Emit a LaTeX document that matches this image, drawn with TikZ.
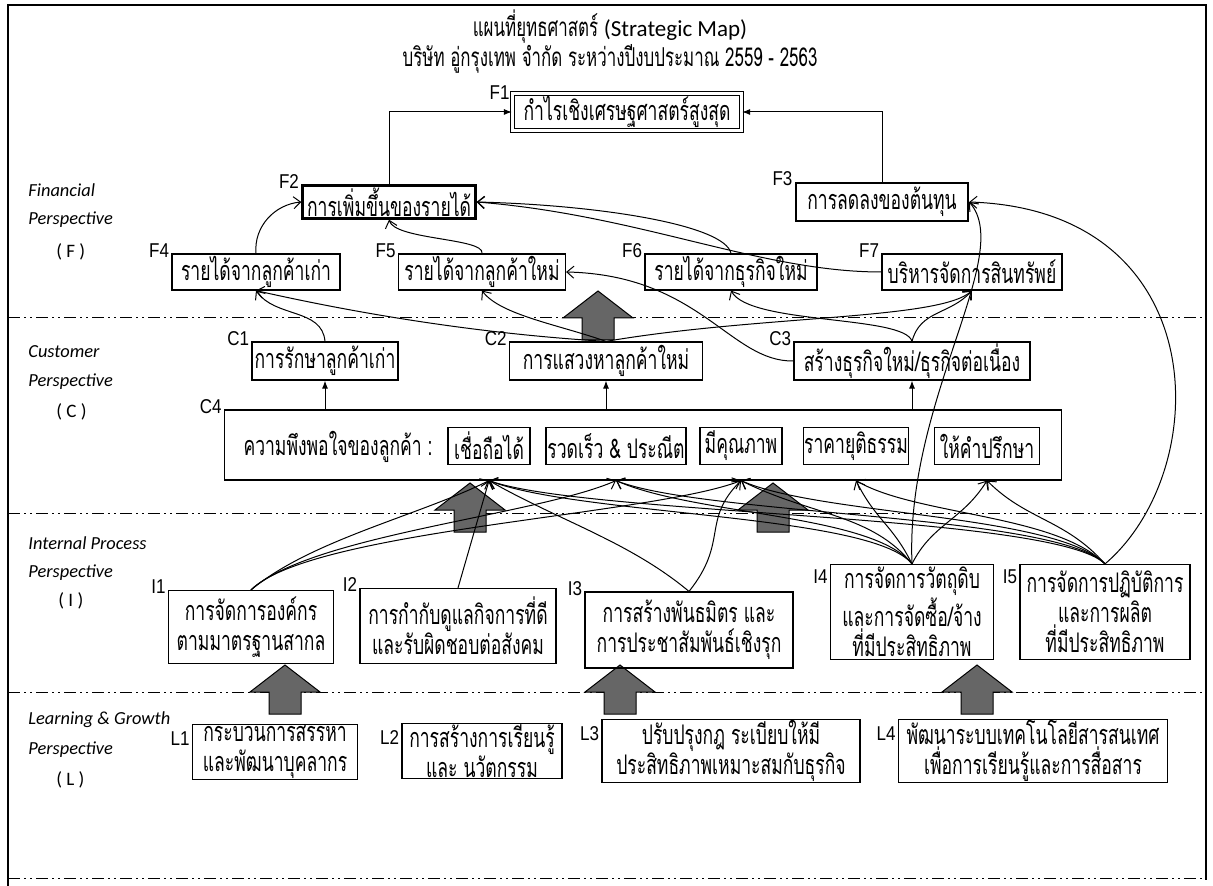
\documentclass[tikz,border=0pt]{standalone}
\usepackage{fontspec}
\setmainfont{Carlito}
\newfontfamily\thaifont[Script=Thai,FakeStretch=0.65]{Loma}
\newfontfamily\tagfont[FakeStretch=0.85]{Liberation Sans}
\usetikzlibrary{arrows.meta}

\tikzset{
  box/.style={draw, line width=0.6pt, align=center, inner sep=0.5pt,
    font=\thaifont\fontsize{13.5}{15}\selectfont},
  sized/.style 2 args={minimum width=#1*0.5pt, minimum height=#2*0.5pt},
  heavy/.style={line width=1.2pt},
  heading/.style={inner sep=0pt, text height=9pt, text depth=3pt, font=\thaifont\fontsize{13}{16}\selectfont},
  tag/.style={anchor=east, inner sep=1pt, yshift=1.5pt, font=\tagfont\fontsize{10}{11}\selectfont},
  side/.style={anchor=west, inner sep=0pt, font=\itshape\fontsize{9.2}{11}\selectfont},
  link/.style={line width=0.5pt, -{Straight Barb[length=3.5pt,width=6pt]}},
  up/.style={line width=0.5pt, -{Latex[length=4pt,width=3pt]}},
  sep/.style={line width=0.5pt, dash pattern=on 6pt off 2pt on 1pt off 2pt on 1pt off 2pt},
  bigup/.pic={\filldraw[fill=black!60, line width=0.5pt]
    (-35,0) -- (0,-27) -- (35,0) -- (16,0) -- (16,22) -- (-16,22) -- (-16,0) -- cycle;}
}

\begin{document}
\begin{tikzpicture}[x=0.5pt,y=-0.5pt]
    \useasboundingbox (0,0) rectangle (1213,886);

    % Frame and perspective separators
    \draw[line width=0.6pt] (8,886) -- (8,5) -- (1206,5) -- (1206,880);
    \draw[sep] (8,318) -- (1206,318);
    \draw[sep] (8,513) -- (1206,513);
    \draw[sep] (8,692) -- (1206,692);
    \draw[sep] (8,878) -- (1206,878);

    % Title
    \node[heading] (title) at (610,31) {แผนที่ยุทธศาสตร์ {\normalfont\fontsize{11.5}{14}\selectfont (Strategic Map)}};
    \node[heading] (subtitle) at (610,61) {บริษัท อู่กรุงเทพ จำกัด ระหว่างปีงบประมาณ 2559 - 2563};

    % Perspective names
    \node[side] (fin1) at (28,190) {Financial};
    \node[side] (fin2) at (28,220) {Perspective};
    \node[side, font=\fontsize{9.5}{11}\selectfont] (fin3) at (56,252) {( F )};
    \node[side] (cus1) at (28,352) {Customer};
    \node[side] (cus2) at (28,382) {Perspective};
    \node[side, font=\fontsize{9.5}{11}\selectfont] (cus3) at (56,412) {( C )};
    \node[side] (int1) at (28,543) {Internal Process};
    \node[side] (int2) at (28,573) {Perspective};
    \node[side, font=\fontsize{9.5}{11}\selectfont] (int3) at (58,601) {( I )};
    \node[side] (lrn1) at (28,720) {Learning \& Growth};
    \node[side] (lrn2) at (28,750) {Perspective};
    \node[side, font=\fontsize{9.5}{11}\selectfont] (lrn3) at (56,780) {( L )};

    % Big block arrows between the layers
    \pic at (598,318) {bigup};
    \pic at (470,510) {bigup};
    \pic at (773,510) {bigup};
    \pic at (285,692) {bigup};
    \pic at (620,692) {bigup};
    \pic at (977,692) {bigup};

    % Financial
    \node[box, sized={229}{37}, double, double distance=1.2pt, label={[tag,yshift=-1.5pt]north west:F1}] (f1) at (627,112) {กำไรเชิงเศรษฐศาสตร์สูงสุด};
    \node[box, heavy, sized={173}{33}, label={[tag]north west:F2}] (f2) at (389,202) {การเพิ่มขึ้นของรายได้};
    \node[box, heavy, sized={172}{38}, label={[tag]north west:F3}] (f3) at (882,202) {การลดลงของต้นทุน};
    \node[box, sized={168}{36}, label={[tag]north west:F4}] (f4) at (256,272) {รายได้จากลูกค้าเก่า};
    \node[box, sized={167}{36}, label={[tag]north west:F5}] (f5) at (482,272) {รายได้จากลูกค้าใหม่};
    \node[box, sized={172}{36}, label={[tag]north west:F6}] (f6) at (731,272) {รายได้จากธุรกิจใหม่};
    \node[box, sized={180}{36}, label={[tag]north west:F7}] (f7) at (972,272) {บริหารจัดการสินทรัพย์};

    % Customer
    \node[box, sized={146}{38}, label={[tag]north west:C1}] (c1) at (325,361) {การรักษาลูกค้าเก่า};
    \node[box, sized={193}{38}, label={[tag]north west:C2}] (c2) at (606,361) {การแสวงหาลูกค้าใหม่};
    \node[box, sized={236}{38}, label={[tag]north west:C3}] (c3) at (912,361) {สร้างธุรกิจใหม่/ธุรกิจต่อเนื่อง};
    \node[box, sized={837}{70}, label={[tag]north west:C4}] (c4) at (643,445) {};
    \node[box, draw=none] (sat) at (338,447) {ความพึงพอใจของลูกค้า :};
    \node[box, sized={82}{37}] (s1) at (489,446) {เชื่อถือได้};
    \node[box, sized={140}{37}] (s2) at (616,446) {รวดเร็ว \& ประณีต};
    \node[box, sized={82}{37}] (s3) at (741,446) {มีคุณภาพ};
    \node[box, sized={92}{37}] (s4) at (856,446) {ราคายุติธรรม};
    \node[box, sized={105}{37}] (s5) at (987,446) {ให้คำปรึกษา};
    \foreach \s in {1,...,5}
        \coordinate (t\s) at (s\s |- c4.south);

    % Internal process
    \node[box, sized={165}{73}, label={[tag]north west:I1}] (i1) at (251,627) {การจัดการองค์กร\\ตามมาตรฐานสากล};
    \node[box, sized={196}{75}, label={[tag]north west:I2}] (i2) at (458,626) {การกำกับดูแลกิจการที่ดี\\และรับผิดชอบต่อสังคม};
    \node[box, sized={208}{76}, label={[tag]north west:I3}] (i3) at (689,630) {การสร้างพันธมิตร และ\\การประชาสัมพันธ์เชิงรุก};
    \node[box, sized={163}{95}, label={[tag,yshift=-8pt]north west:I4}] (i4) at (912,612) {การจัดการวัตถุดิบ\\และการจัดซื้อ/จ้าง\\ที่มีประสิทธิภาพ};
    \node[box, sized={170}{95}, label={[tag,yshift=-8pt]north west:I5}] (i5) at (1105,612) {การจัดการปฏิบัติการ\\และการผลิต\\ที่มีประสิทธิภาพ};

    % Learning and growth
    \node[box, sized={165}{51}, label={[tag,yshift=-9pt]north west:L1}] (l1) at (275,752) {กระบวนการสรรหา\\และพัฒนาบุคลากร};
    \node[box, sized={160}{50}, label={[tag,yshift=-9pt]north west:L2}] (l2) at (482,751) {การสร้างการเรียนรู้\\และ นวัตกรรม};
    \node[box, sized={258}{50}, label={[tag,yshift=-9pt]north west:L3}] (l3) at (731,751) {ปรับปรุงกฎ ระเบียบให้มี\\ประสิทธิภาพเหมาะสมกับธุรกิจ};
    \node[box, sized={269}{50}, label={[tag,yshift=-9pt]north west:L4}] (l4) at (1033,751) {พัฒนาระบบเทคโนโลยีสารสนเทศ\\เพื่อการเรียนรู้และการสื่อสาร};

    % Straight links
    \draw[up] (f2.north) |- (f1.west);
    \draw[up] (f3.north) |- (f1.east);
    \draw[up] (c4.north -| c1.south) -- (c1.south);
    \draw[up] (c4.north -| c2.south) -- (c2.south);
    \draw[up] (c4.north -| c3.south) -- (c3.south);

    % Financial links
    \draw[link] (f4.north) to[out=95,in=185] (f2.west);
    \draw[link] (f5.north) .. controls (485,238) and (395,240) .. (f2.south);
    \draw[link] (f6.north) .. controls (725,225) and (600,205) .. (f2.east);
    \draw[link] (f7.west) .. controls (760,272) and (640,215) .. (f2.east);
    \draw[link] (i4.north) .. controls (905,400) and (1015,255) .. (f3.east);
    \draw[link] (i5.north) .. controls (1215,470) and (1215,210) .. (f3.east);

    % Customer links
    \draw[link] (c1.north) to[out=95,in=-55] (f4.south);
    \draw[link] (c2.north) .. controls (450,332) and (320,305) .. (f4.south);
    \draw[link] (c2.north) .. controls (560,325) and (500,315) .. (f5.south);
    \draw[link] (c2.north) .. controls (760,315) and (940,320) .. (f7.south);
    \draw[link] (c3.north) .. controls (905,315) and (750,325) .. (f6.south);
    \draw[link] (c3.north) .. controls (920,310) and (950,315) .. (f7.south);
    \draw[link] (c3.west) .. controls (730,362) and (700,275) .. (f5.east);

    % Internal process links
    \draw[link] (i2.north) -- (t1);
    \foreach \src/\dst/\a/\b/\c/\d in {i1/t1/60/-50/-70/35, i1/t2/60/-55/-80/35, i1/t3/60/-60/-90/35,
        i3/t1/-60/-50/70/40, i3/t3/40/-50/-40/40,
        i4/t1/-40/-50/90/35, i4/t2/-40/-50/80/35, i4/t3/-40/-50/70/35, i4/t4/-20/-40/20/40, i4/t5/20/-40/-25/40,
        i5/t1/-50/-50/100/35, i5/t2/-50/-50/90/35, i5/t3/-50/-50/80/35, i5/t4/-50/-50/60/35, i5/t5/-40/-45/40/40}
        \draw[link] (\src.north) .. controls +(\a,\b) and +(\c,\d) .. (\dst);
\end{tikzpicture}
\end{document}
